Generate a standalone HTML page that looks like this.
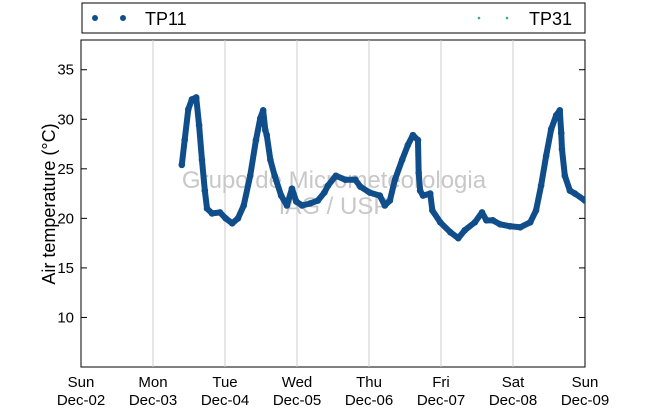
<!DOCTYPE html>
<html><head><meta charset="utf-8"><style>
body{margin:0;background:#fff}
svg{display:block;font-family:"Liberation Sans","DejaVu Sans",sans-serif}
</style></head><body>
<svg id="chart" width="650" height="409" viewBox="0 0 650 409">
<defs><clipPath id="pc"><rect x="81" y="40" width="504" height="327"/></clipPath></defs>
<rect x="81" y="40" width="504" height="327" fill="#fff" stroke="#000" stroke-width="1"/>
<g id="grid"></g>
<g id="wm">
<text x="334" y="188" font-size="24" fill="#c8c8c8" text-anchor="middle">Grupo de Micrometeorologia</text>
<text x="334" y="214" font-size="24" fill="#c8c8c8" text-anchor="middle">IAG / USP</text>
</g>
<g id="series" clip-path="url(#pc)"></g>
<g id="axes"></g>
<text transform="translate(55,204) rotate(-90)" font-size="18" text-anchor="middle">Air temperature (°C)</text>
<g>
<rect x="82" y="3" width="503" height="30" fill="#fff" stroke="#000"/>
<g>
<circle cx="95" cy="18" r="3" fill="#104e8b"/><circle cx="123" cy="18" r="3" fill="#104e8b"/>
<text x="145" y="25" font-size="18">TP11</text></g>
<g>
<circle cx="479" cy="18" r="1.3" fill="#3aaa8a"/><circle cx="507" cy="18" r="1.3" fill="#3aaa8a"/>
<text x="529" y="25" font-size="18">TP31</text></g>
</g>
</svg>
<script>
const days=[1.40,1.44,1.49,1.54,1.60,1.64,1.68,1.72,1.75,1.82,1.93,2.01,2.10,2.18,2.26,2.35,2.43,2.49,2.53,2.56,2.58,2.63,2.69,2.78,2.86,2.93,2.99,3.07,3.18,3.29,3.38,3.43,3.54,3.67,3.81,3.88,4.01,4.15,4.22,4.29,4.36,4.46,4.54,4.61,4.68,4.69,4.71,4.75,4.85,4.88,4.99,5.13,5.24,5.33,5.47,5.57,5.63,5.72,5.82,5.96,6.10,6.24,6.32,6.39,6.46,6.53,6.60,6.65,6.67,6.68,6.72,6.79,6.86,7.00];
const temps=[25.4,27.9,31,32,32.2,29.4,25.9,22.8,21,20.5,20.6,20,19.5,20,21.3,24.3,27.9,30.1,30.9,28.9,28.4,25.9,24.3,22.3,21.3,23,21.7,21.3,21.5,21.8,22.6,23.3,24.3,23.9,23.9,23.2,22.6,22.3,21.3,21.8,23.9,25.9,27.4,28.4,27.9,24.6,22.8,22.3,22.5,20.8,19.6,18.6,18,18.8,19.6,20.6,19.8,19.8,19.4,19.2,19.1,19.6,20.8,23.3,26.3,29,30.4,30.9,28.6,27,24.3,22.8,22.5,21.8];
const yTicks=[10,15,20,25,30,35];
const xDays=["Sun","Mon","Tue","Wed","Thu","Fri","Sat","Sun"];
const xDates=["Dec-02","Dec-03","Dec-04","Dec-05","Dec-06","Dec-07","Dec-08","Dec-09"];
const NS="http://www.w3.org/2000/svg";
const X=d=>81+d*72, Y=t=>367-(t-5)*(327/33);
function mk(tag,attrs,parent){const e=document.createElementNS(NS,tag);for(const k in attrs)e.setAttribute(k,attrs[k]);parent.appendChild(e);return e;}
const grid=document.getElementById('grid'),axes=document.getElementById('axes'),ser=document.getElementById('series');
xDays.forEach((d,i)=>{
 const x=X(i);
 if(i>0&&i<7){const g=mk('line',{x1:x,x2:x,y1:40,y2:367,stroke:'#cccccc','stroke-width':1},grid);
 
 }
 const t=mk('text',{x:x,y:387,'font-size':15,'text-anchor':'middle'},axes);t.textContent=d;
 
 
 const t2=mk('text',{x:x,y:405,'font-size':15,'text-anchor':'middle'},axes);t2.textContent=xDates[i];
 
 
});
yTicks.forEach(v=>{
 const y=Y(v);
 const l=mk('line',{x1:81,x2:87,y1:y,y2:y,stroke:'#000'},axes);
 
 
 const l2=mk('line',{x1:579,x2:585,y1:y,y2:y,stroke:'#000'},axes);
 
 
 const t=mk('text',{x:74,y:y+5,'font-size':15,'text-anchor':'end'},axes);t.textContent=v;
 
 
});
const pts=days.map((d,i)=>X(d)+','+Y(temps[i])).join(' ');
const pl=mk('polyline',{points:pts,fill:'none',stroke:'#104e8b','stroke-width':6,'stroke-linejoin':'round','stroke-linecap':'round'},ser);


days.forEach((d,i)=>{const c=mk('circle',{cx:X(d),cy:Y(temps[i]),r:3.3,fill:'#104e8b'},ser);
 
 });
</script>
</body></html>
